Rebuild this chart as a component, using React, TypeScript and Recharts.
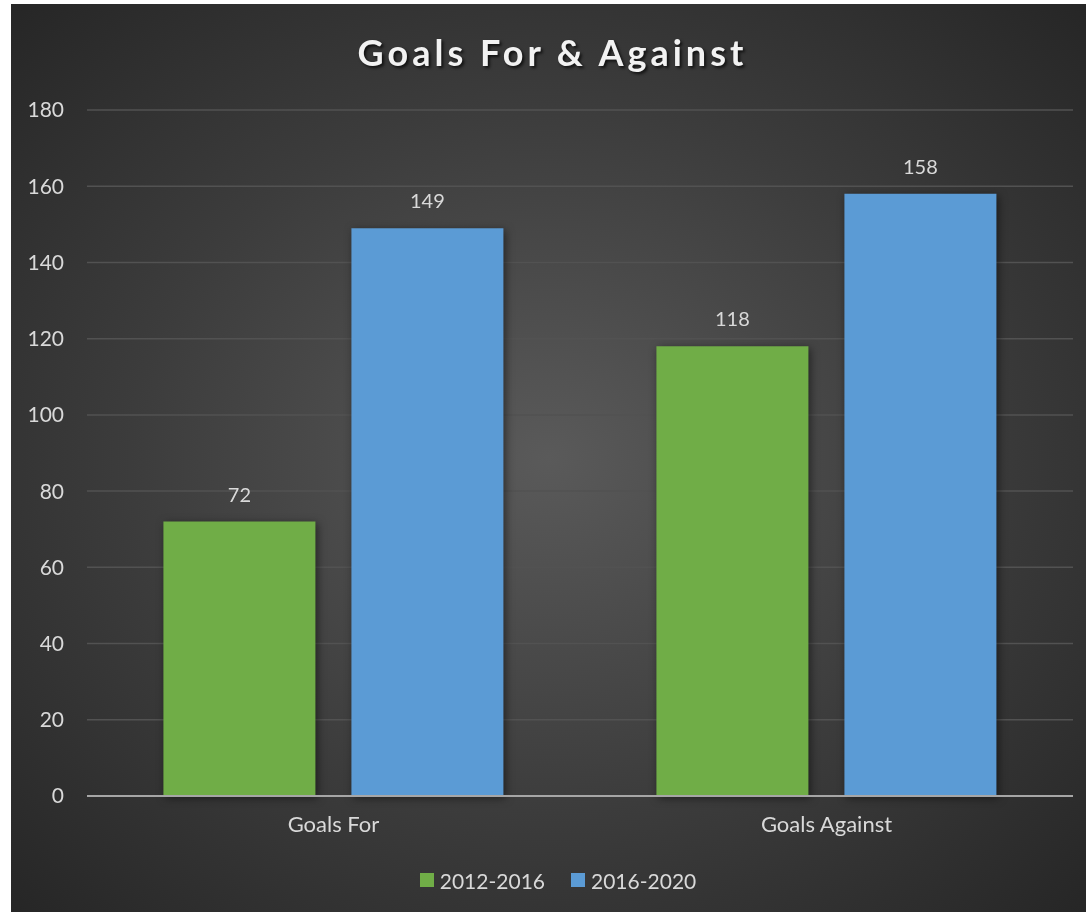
import { BarChart, Bar, XAxis, YAxis, CartesianGrid, Legend, LabelList } from 'recharts';

// categories and series
const categories = ['Goals For', 'Goals Against'];
const period2012 = [72, 118];
const period2016 = [149, 158];
const yTicks = [0, 20, 40, 60, 80, 100, 120, 140, 160, 180];
const seriesNames = ['2012-2016', '2016-2020'];
const seriesColors = ['#70AD47', '#5B9BD5'];

const data = categories.map((name, i) => ({
  name,
  [seriesNames[0]]: period2012[i],
  [seriesNames[1]]: period2016[i],
}));

const textColor = '#D9D9D9';
const font = 'Lato, "Open Sans", sans-serif';

const LegendContent = () => (
  <div
    style={{
      display: 'flex',
      justifyContent: 'center',
      alignItems: 'center',
      height: 24,
      paddingLeft: 32,
      fontFamily: font,
      fontSize: 21,
      color: textColor,
    }}
  >
    {seriesNames.map((n, i) => (
      <div key={n} style={{ display: 'flex', alignItems: 'center', marginRight: i === 0 ? 26 : 0 }}>
        <span style={{ width: 14, height: 14, background: seriesColors[i], marginRight: 6, display: 'inline-block' }} />
        <span>{n}</span>
      </div>
    ))}
  </div>
);

export default function App() {
  return (
    <div
      style={{
        position: 'fixed',
        left: 11,
        top: 4,
        width: 1075,
        height: 908,
        background: 'radial-gradient(ellipse at 50% 50%, #5a5a5a 0%, #3c3c3c 55%, #262626 100%)',
        fontFamily: font,
      }}
    >
      <div
        style={{
          position: 'absolute',
          top: 26,
          left: 4,
          width: '100%',
          textAlign: 'center',
          color: '#F2F2F2',
          fontSize: 36,
          fontWeight: 700,
          letterSpacing: 4,
          textShadow: '2px 2px 3px rgba(0,0,0,0.7)',
        }}
      >
        Goals For &amp; Against
      </div>
      <BarChart
        width={1075}
        height={908}
        data={data}
        margin={{ top: 106, right: 13, bottom: 62, left: 0 }}
        barCategoryGap="15.5%"
        barGap={36}
      >
        <CartesianGrid vertical={false} stroke="#525252" strokeWidth={1.5} />
        <XAxis
          dataKey="name"
          axisLine={{ stroke: '#A6A6A6', strokeWidth: 2 }}
          tickLine={false}
          tickSize={0}
          tickMargin={20}
          tick={{ fill: textColor, fontSize: 22, fontFamily: font }}
        />
        <YAxis
          width={76}
          domain={[0, 180]}
          ticks={yTicks}
          axisLine={false}
          tickLine={false}
          tickSize={0}
          tickMargin={23}
          tick={{ fill: textColor, fontSize: 21, fontFamily: font }}
        />
        <Legend verticalAlign="bottom" align="center" content={LegendContent} wrapperStyle={{ bottom: 20 }} />
        <Bar dataKey={seriesNames[0]} fill={seriesColors[0]} isAnimationActive={false} style={{ filter: 'drop-shadow(2px 2px 4px rgba(0,0,0,0.5))' }}>
          <LabelList dataKey={seriesNames[0]} position="top" offset={20} fill={textColor} fontSize={20} fontFamily={font} />
        </Bar>
        <Bar dataKey={seriesNames[1]} fill={seriesColors[1]} isAnimationActive={false} style={{ filter: 'drop-shadow(2px 2px 4px rgba(0,0,0,0.5))' }}>
          <LabelList dataKey={seriesNames[1]} position="top" offset={20} fill={textColor} fontSize={20} fontFamily={font} />
        </Bar>
      </BarChart>
    </div>
  );
}
